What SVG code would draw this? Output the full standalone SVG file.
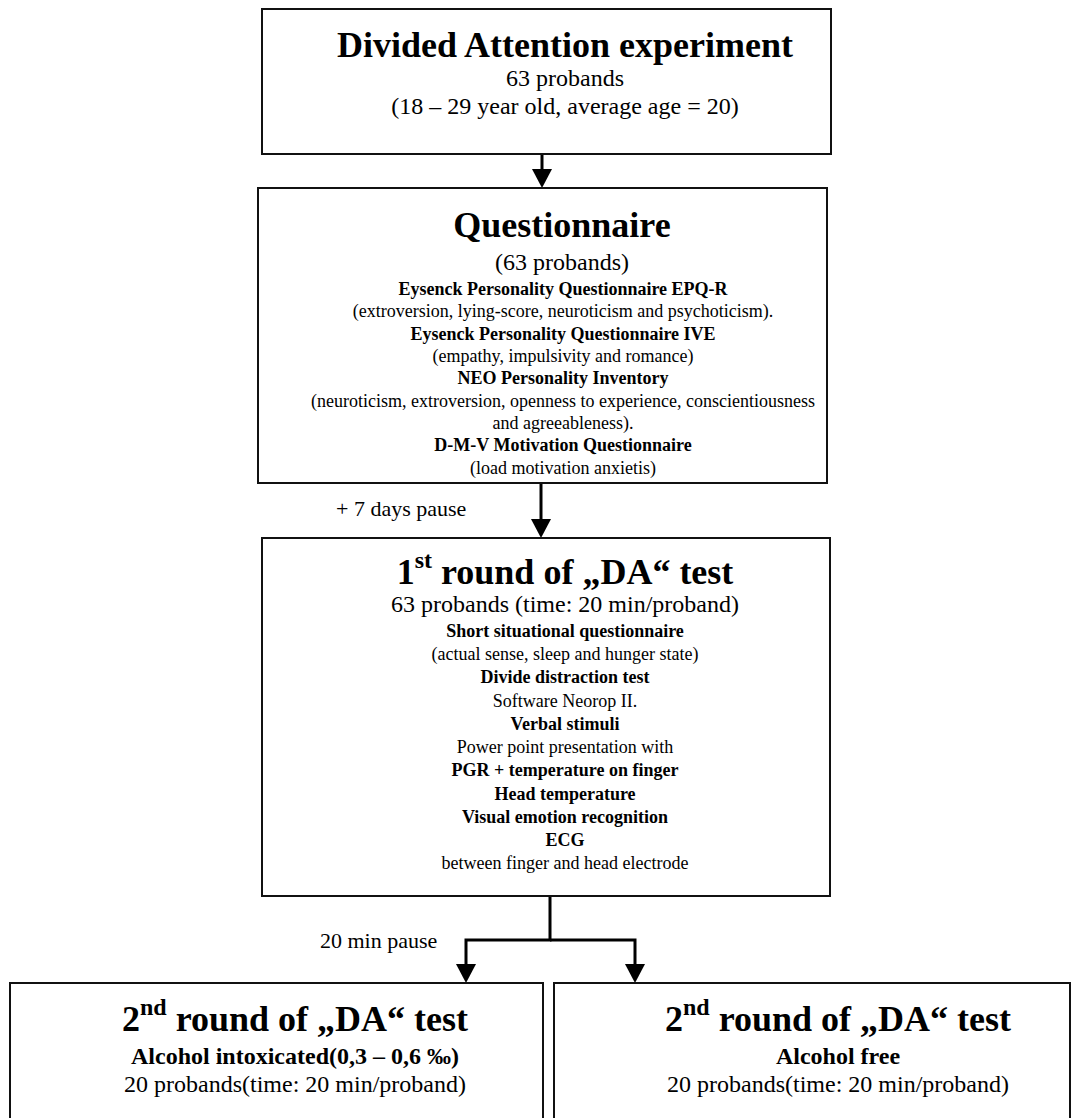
<svg xmlns="http://www.w3.org/2000/svg" width="1074" height="1118" viewBox="0 0 1074 1118">
<style>
  .box { fill: #ffffff; stroke: #111111; stroke-width: 2; }
  .conn { fill: none; stroke: #000000; stroke-width: 3; stroke-linejoin: miter; }
  text { font-family: "Liberation Serif", "Times New Roman", serif; fill: #000000; }
  .c { text-anchor: middle; }
  .t36 { font-size: 36px; font-weight: bold; }
  .t24 { font-size: 24px; }
  .b24 { font-size: 24px; font-weight: bold; }
  .t18 { font-size: 18px; }
  .b18 { font-size: 18px; font-weight: bold; }
  .lbl { font-size: 22px; }
</style>
<defs>
  <marker id="arrow" markerUnits="userSpaceOnUse" markerWidth="20" markerHeight="20" refX="0" refY="10" orient="auto" overflow="visible">
    <path d="M0,0 L19,10 L0,20 Z" fill="#000000"/>
  </marker>
</defs>
<rect width="1074" height="1118" fill="#ffffff"/>

<g id="connectors">
  <path class="conn" d="M542,155 V169" marker-end="url(#arrow)"/>
  <path class="conn" d="M541,484 V519" marker-end="url(#arrow)"/>
  <path class="conn" d="M550,897 V940 H466 V964" marker-end="url(#arrow)"/>
  <path class="conn" d="M550,940 H635 V964" marker-end="url(#arrow)"/>
  <text class="lbl" x="336" y="516">+ 7 days pause</text>
  <text class="lbl" x="320" y="948">20 min pause</text>
</g>

<g id="node-experiment">
  <rect class="box" x="262" y="9" width="569" height="145"/>
  <text class="c t36" x="565" y="57">Divided Attention experiment</text>
  <text class="c t24" x="565" y="86">63 probands</text>
  <text class="c t24" x="565" y="114">(18 – 29 year old, average age = 20)</text>
</g>

<g id="node-questionnaire">
  <rect class="box" x="258" y="188" width="569" height="295"/>
  <text class="c t36" x="562" y="237">Questionnaire</text>
  <text class="c t24" x="562" y="270">(63 probands)</text>
  <text class="c b18" x="563" y="295">Eysenck Personality Questionnaire EPQ-R</text>
  <text class="c t18" x="563" y="317">(extroversion, lying-score, neuroticism and psychoticism).</text>
  <text class="c b18" x="563" y="340">Eysenck Personality Questionnaire IVE</text>
  <text class="c t18" x="563" y="362">(empathy, impulsivity and romance)</text>
  <text class="c b18" x="563" y="384">NEO Personality Inventory</text>
  <text class="c t18" x="563" y="407">(neuroticism, extroversion, openness to experience, conscientiousness</text>
  <text class="c t18" x="563" y="429">and agreeableness).</text>
  <text class="c b18" x="563" y="451">D-M-V Motivation Questionnaire</text>
  <text class="c t18" x="563" y="474">(load motivation anxietis)</text>
</g>

<g id="node-round1">
  <rect class="box" x="262" y="538" width="568" height="358"/>
  <text class="c t36" x="565" y="584">1<tspan font-size="24" dy="-16">st</tspan><tspan dy="16"> round of „DA“ test</tspan></text>
  <text class="c t24" x="565" y="612">63 probands (time: 20 min/proband)</text>
  <text class="c b18" x="565" y="637">Short situational questionnaire</text>
  <text class="c t18" x="565" y="660">(actual sense, sleep and hunger state)</text>
  <text class="c b18" x="565" y="683">Divide distraction test</text>
  <text class="c t18" x="565" y="706.5">Software Neorop II.</text>
  <text class="c b18" x="565" y="730">Verbal stimuli</text>
  <text class="c t18" x="565" y="753">Power point presentation with</text>
  <text class="c b18" x="565" y="776">PGR + temperature on finger</text>
  <text class="c b18" x="565" y="799.5">Head temperature</text>
  <text class="c b18" x="565" y="823">Visual emotion recognition</text>
  <text class="c b18" x="565" y="846">ECG</text>
  <text class="c t18" x="565" y="869">between finger and head electrode</text>
</g>

<g id="node-round2-alcohol">
  <rect class="box" x="10" y="983" width="533" height="150"/>
  <text class="c t36" x="295" y="1031">2<tspan font-size="24" dy="-16">nd</tspan><tspan dy="16"> round of „DA“ test</tspan></text>
  <text class="c b24" x="295" y="1064">Alcohol intoxicated(0,3 – 0,6 ‰)</text>
  <text class="c t24" x="295" y="1092">20 probands(time: 20 min/proband)</text>
</g>

<g id="node-round2-free">
  <rect class="box" x="554" y="983" width="516" height="150"/>
  <text class="c t36" x="838" y="1031">2<tspan font-size="24" dy="-16">nd</tspan><tspan dy="16"> round of „DA“ test</tspan></text>
  <text class="c b24" x="838" y="1064">Alcohol free</text>
  <text class="c t24" x="838" y="1092">20 probands(time: 20 min/proband)</text>
</g>
</svg>
